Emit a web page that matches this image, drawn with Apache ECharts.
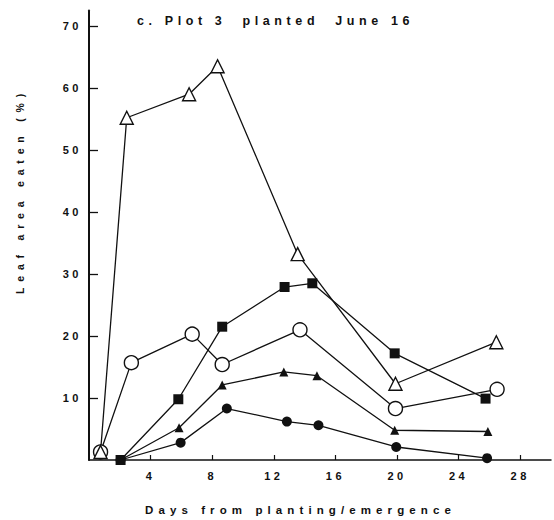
<!DOCTYPE html>
<html>
<head>
<meta charset="utf-8">
<script src="https://cdn.jsdelivr.net/npm/echarts@6/dist/echarts.min.js"></script>
<style>
  html, body { margin: 0; padding: 0; background: #fff; }
  #chart { width: 554px; height: 520px; }
  /* typewriter-like tracking for all lettering */
  #chart svg text { letter-spacing: 3.5px; }
  #chart svg text[style*="12.5px"] { letter-spacing: 4.6px; }
  #chart svg text[style*="11.5px"] { letter-spacing: 5.1px; }
  #chart svg text[style*="10.5px"] { letter-spacing: 5.8px; }
</style>
</head>
<body>
<div id="chart"></div>
<script>
// Leaf area eaten (%) by days from planting/emergence, plot 3.
const openTriangleDays   = [0.75, 2.45, 6.5, 8.35, 13.55, 19.9, 26.45];
const openTriangleValues = [1.3, 55.2, 59.0, 63.5, 33.2, 12.3, 19.0];

const openCircleDays   = [0.75, 2.75, 6.7, 8.65, 13.7, 19.9, 26.5];
const openCircleValues = [1.3, 15.7, 20.3, 15.4, 21.0, 8.3, 11.4];

const filledSquareDays   = [2.05, 5.8, 8.65, 12.7, 14.5, 19.85, 25.75];
const filledSquareValues = [0, 9.8, 21.5, 27.9, 28.5, 17.2, 9.9];

const filledTriangleDays   = [2.05, 5.85, 8.65, 12.65, 14.8, 19.85, 25.9];
const filledTriangleValues = [0, 5.2, 12.1, 14.2, 13.6, 4.8, 4.6];

const filledCircleDays   = [2.05, 5.95, 8.95, 12.85, 14.9, 19.95, 25.85];
const filledCircleValues = [0, 2.8, 8.3, 6.2, 5.6, 2.1, 0.3];

const xTickValues = [4, 8, 12, 16, 20, 24, 28];
const yTickValues = [10, 20, 30, 40, 50, 60, 70];

const titleText = 'c. Plot 3  planted  June 16';
const xAxisTitle = 'Days from planting/emergence';
const yAxisTitle = 'Leaf area eaten (%)';

const INK = '#111';
const FONT = '"Liberation Sans", Arial, sans-serif';

function pairs(xs, ys) {
  return xs.map((x, i) => [x, ys[i]]);
}

function lineSeries(name, xs, ys, symbol, size, filled) {
  return {
    name: name,
    type: 'line',
    data: pairs(xs, ys),
    symbol: symbol,
    symbolSize: size,
    showAllSymbol: true,
    lineStyle: { color: INK, width: 1.3 },
    itemStyle: filled
      ? { color: INK, borderColor: INK, borderWidth: 0 }
      : { color: '#fff', borderColor: INK, borderWidth: 1.4 },
    emphasis: { disabled: true },
    z: filled ? 3 : 4
  };
}

const chart = echarts.init(document.getElementById('chart'), null, { renderer: 'svg' });

chart.setOption({
  animation: false,
  backgroundColor: '#fff',
  title: {
    text: titleText,
    left: 137,
    top: 14.5,
    padding: 0,
    textStyle: { fontFamily: FONT, fontSize: 12.5, fontWeight: 'bold', color: INK }
  },
  grid: { left: 89, right: 3, top: 10.5, bottom: 60, containLabel: false },
  xAxis: {
    type: 'value',
    min: 0,
    max: 30,
    interval: 2,
    axisLine: { show: true, onZero: false, lineStyle: { color: INK, width: 1.5 } },
    axisTick: { show: true, inside: true, length: 5, customValues: xTickValues, lineStyle: { color: INK, width: 1.2 } },
    axisLabel: {
      customValues: xTickValues,
      margin: 10,
      fontFamily: FONT, fontSize: 11, fontWeight: 'bold', color: INK
    },
    splitLine: { show: false }
  },
  yAxis: {
    type: 'value',
    min: 0,
    max: 72.5,
    interval: 10,
    axisLine: { show: true, onZero: false, lineStyle: { color: INK, width: 2 } },
    axisTick: { show: true, inside: true, length: 9, customValues: yTickValues, lineStyle: { color: INK, width: 1.3 } },
    axisLabel: {
      customValues: yTickValues,
      margin: 7,
      fontFamily: FONT, fontSize: 11, fontWeight: 'bold', color: INK
    },
    splitLine: { show: false }
  },
  graphic: [
    {
      type: 'text',
      x: 145,
      y: 510,
      style: {
        text: xAxisTitle,
        fill: INK,
        font: 'bold 11.5px ' + FONT,
        align: 'left',
        verticalAlign: 'middle'
      }
    },
    {
      type: 'text',
      x: 20,
      y: 191,
      rotation: Math.PI / 2,
      style: {
        text: yAxisTitle,
        fill: INK,
        font: 'bold 10.5px ' + FONT,
        align: 'center',
        verticalAlign: 'middle'
      }
    }
  ],
  series: [
    lineSeries('filledCircle', filledCircleDays, filledCircleValues, 'circle', 10, true),
    lineSeries('filledTriangle', filledTriangleDays, filledTriangleValues, 'triangle', 9, true),
    lineSeries('filledSquare', filledSquareDays, filledSquareValues, 'rect', 10, true),
    lineSeries('openCircle', openCircleDays, openCircleValues, 'circle', 14, false),
    lineSeries('openTriangle', openTriangleDays, openTriangleValues, 'triangle', 13, false)
  ]
});
</script>
</body>
</html>
